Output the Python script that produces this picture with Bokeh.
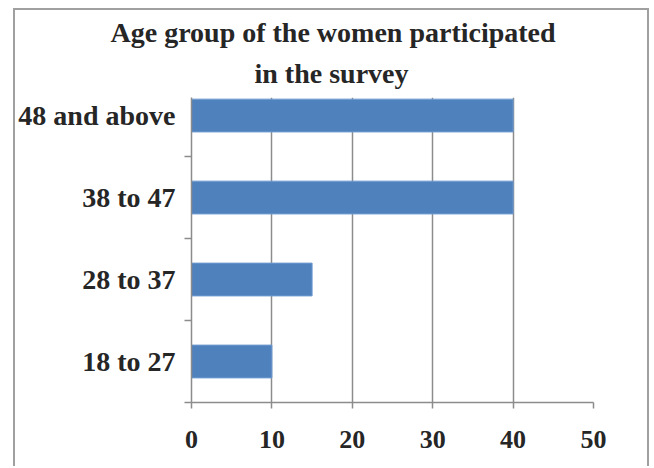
from bokeh.plotting import figure
from bokeh.models import FixedTicker, Title
from bokeh.embed import file_html
from bokeh.resources import INLINE

# Survey data: age groups (bottom to top) and number of women in each
age_groups = ["18 to 27", "28 to 37", "38 to 47", "48 and above"]
counts = [10, 15, 40, 40]
x_ticks = [0, 10, 20, 30, 40, 50]
title_lines = ["Age group of the women participated", "in the survey"]

FONT = "Liberation Serif"
TEXT_COLOR = "#262626"
GRID_COLOR = "#8c8c8c"
BAR_COLOR = "#4f81bd"

# one band per age group; bar centred in its band
centers = [i + 0.5 for i in range(len(age_groups))]
boundaries = [float(i) for i in range(len(age_groups))]

p = figure(
    width=636, height=458,
    x_range=(0, 50), y_range=(0, 3.72),
    output_backend="svg", toolbar_location=None,
    min_border_left=175, min_border_right=58,
    min_border_top=87, min_border_bottom=66,
    background_fill_color="white", border_fill_color="white",
)
p.outline_line_color = None
p.margin = (8, 0, 0, 13)
p.styles = {"border": "2px solid #a0a0a0", "border-bottom": "none"}
p.title = None

p.hbar(y=centers, right=counts, left=0, height=0.4,
       fill_color=BAR_COLOR, line_color="#6f9bd1", line_width=1)

# value axis
p.xaxis.ticker = FixedTicker(ticks=x_ticks)
p.xaxis.axis_line_color = GRID_COLOR
p.xaxis.axis_line_width = 1.5
p.xaxis.major_tick_line_color = GRID_COLOR
p.xaxis.major_tick_line_width = 1.5
p.xaxis.major_tick_out = 6
p.xaxis.major_tick_in = 0
p.xaxis.minor_tick_line_color = None
p.xaxis.major_label_text_font = FONT
p.xaxis.major_label_text_font_style = "bold"
p.xaxis.major_label_text_font_size = "26px"
p.xaxis.major_label_text_color = TEXT_COLOR
p.xaxis.major_label_standoff = 22

# category axis: labels at band centres, tick marks at band edges
p.yaxis.ticker = FixedTicker(ticks=centers, minor_ticks=boundaries)
p.yaxis.major_label_overrides = {c: g for c, g in zip(centers, age_groups)}
p.yaxis.axis_line_color = GRID_COLOR
p.yaxis.axis_line_width = 1.5
p.yaxis.major_tick_line_color = None
p.yaxis.major_tick_out = 0
p.yaxis.major_tick_in = 0
p.yaxis.minor_tick_line_color = GRID_COLOR
p.yaxis.minor_tick_line_width = 1.5
p.yaxis.minor_tick_out = 7
p.yaxis.minor_tick_in = 0
p.yaxis.major_label_text_font = FONT
p.yaxis.major_label_text_font_style = "bold"
p.yaxis.major_label_text_font_size = "28px"
p.yaxis.major_label_text_color = TEXT_COLOR
p.yaxis.major_label_standoff = 9

p.xgrid.ticker = FixedTicker(ticks=x_ticks)
p.xgrid.grid_line_color = GRID_COLOR
p.xgrid.grid_line_width = 1.5
p.ygrid.grid_line_color = None

# two-line chart title; the line added last sits on top
for text, off, standoff in [(title_lines[1], 63, 16), (title_lines[0], -81, 0)]:
    p.add_layout(Title(
        text=text, align="left", offset=off, standoff=standoff,
        text_font=FONT, text_font_style="bold", text_font_size="28px",
        text_color=TEXT_COLOR, vertical_align="middle",
    ), "above")

open("out.html", "w").write(file_html(p, INLINE))
